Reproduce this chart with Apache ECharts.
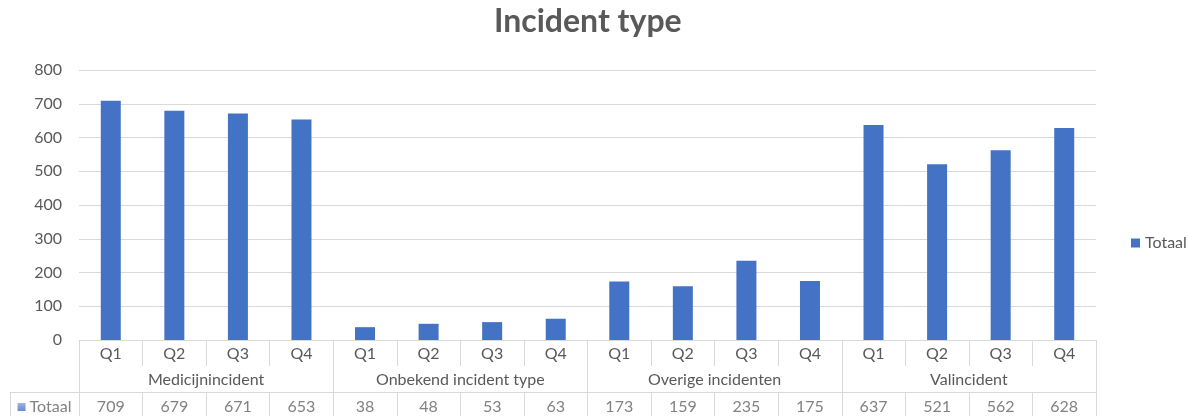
<!DOCTYPE html>
<html>
<head>
<meta charset="utf-8">
<title>Incident type</title>
<script src="https://cdn.jsdelivr.net/npm/echarts@6/dist/echarts.min.js"></script>
<style>
  html, body { margin: 0; padding: 0; background: #ffffff; }
  #chart { width: 1189px; height: 416px; }
</style>
</head>
<body>
<div id="chart"></div>
<script>
// Incident counts per type and quarter
const groups = ['Medicijnincident', 'Onbekend incident type', 'Overige incidenten', 'Valincident'];
const quarters = ['Q1', 'Q2', 'Q3', 'Q4'];
const totaal = [709, 679, 671, 653, 38, 48, 53, 63, 173, 159, 235, 175, 637, 521, 562, 628];
const yTicks = { min: 0, max: 800, step: 100 };
const seriesName = 'Totaal';

// one category key per bar (group + quarter)
const keys = [];
groups.forEach(g => quarters.forEach(q => keys.push(g + ' ' + q)));

const FONT = 'Lato';
const TXT = '#595959';
const TABLE_TXT = '#828282';
const LINE = '#d9d9d9';
const BLUE = '#4472C4';

const chart = echarts.init(document.getElementById('chart'), null, { renderer: 'canvas' });

chart.setOption({
  animation: false,
  backgroundColor: '#ffffff',
  textStyle: { fontFamily: FONT },
  title: {
    text: 'Incident type',
    left: 494,
    top: 6,
    padding: 0,
    textStyle: { fontFamily: FONT, fontSize: 32, fontWeight: 'bold', color: TXT }
  },
  legend: {
    data: [seriesName],
    left: 1126,
    top: 230,
    icon: 'rect',
    itemWidth: 9,
    itemHeight: 9,
    itemGap: 6,
    textStyle: { fontFamily: FONT, fontSize: 16, color: TXT }
  },
  grid: [
    { left: 79, right: 93, top: 70, bottom: 76 },
    // row-header cell of the data table
    { left: 10, width: 69, top: 70, bottom: 76 }
  ],
  xAxis: [
    {
      // quarter row
      gridIndex: 0,
      type: 'category',
      data: keys,
      position: 'bottom',
      axisLine: { show: true, lineStyle: { color: LINE, width: 1 } },
      axisTick: { show: true, interval: 0, length: 26, lineStyle: { color: LINE } },
      axisLabel: {
        interval: 0, margin: 6, fontSize: 16, color: TXT, fontFamily: FONT,
        formatter: (v, i) => quarters[i % quarters.length]
      }
    },
    {
      // group row
      gridIndex: 0,
      type: 'category',
      data: groups,
      position: 'bottom',
      axisLine: { show: false, onZero: false },
      axisTick: { show: true, interval: 0, length: 76, lineStyle: { color: LINE } },
      axisLabel: { interval: 0, margin: 32, fontSize: 16, color: TXT, fontFamily: FONT }
    },
    {
      // data table values row
      gridIndex: 0,
      type: 'category',
      data: keys,
      position: 'bottom',
      offset: 52,
      axisLine: { show: true, onZero: false, lineStyle: { color: LINE, width: 1 } },
      axisTick: { show: true, interval: 0, length: 24, lineStyle: { color: LINE } },
      axisLabel: {
        interval: 0, margin: 7, fontSize: 16, color: TABLE_TXT, fontFamily: FONT,
        formatter: (v, i) => String(totaal[i])
      }
    },
    {
      // data table row header with legend key
      gridIndex: 1,
      type: 'category',
      data: [seriesName],
      position: 'bottom',
      offset: 52,
      axisLine: { show: true, onZero: false, lineStyle: { color: LINE, width: 1 } },
      axisTick: { show: true, interval: 0, length: 24, lineStyle: { color: LINE } },
      axisLabel: {
        interval: 0, margin: 7, fontSize: 16, color: TABLE_TXT, fontFamily: FONT,
        formatter: v => '{k|}{t|' + v + '}',
        rich: {
          k: {
            width: 8, height: 8,
            backgroundColor: {
              type: 'linear', x: 0, y: 0, x2: 0, y2: 1,
              colorStops: [{ offset: 0, color: '#9fb4e0' }, { offset: 1, color: '#6a8bd0' }]
            }
          },
          t: { fontSize: 16, color: TABLE_TXT, fontFamily: FONT, padding: [0, 0, 0, 4] }
        }
      }
    }
  ],
  yAxis: [
    {
      gridIndex: 0,
      type: 'value',
      min: yTicks.min,
      max: yTicks.max,
      interval: yTicks.step,
      axisLine: { show: false },
      axisTick: { show: false },
      splitLine: { show: true, lineStyle: { color: LINE, width: 1 } },
      axisLabel: { margin: 17, fontSize: 16, color: TXT, fontFamily: FONT }
    },
    {
      gridIndex: 1,
      type: 'value',
      min: 0,
      max: 1,
      show: false
    }
  ],
  series: [
    {
      name: seriesName,
      type: 'bar',
      xAxisIndex: 0,
      yAxisIndex: 0,
      data: totaal,
      barWidth: 20,
      itemStyle: { color: BLUE }
    }
  ]
});
</script>
</body>
</html>
